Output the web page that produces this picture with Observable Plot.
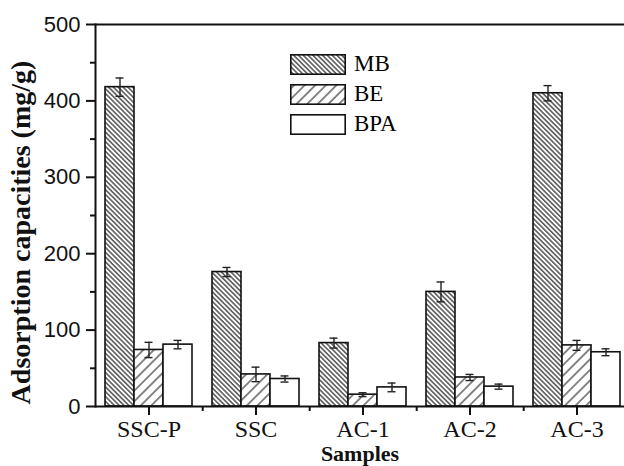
<!DOCTYPE html>
<html><head><meta charset="utf-8">
<script src="https://cdn.jsdelivr.net/npm/d3@7"></script>
<script src="https://cdn.jsdelivr.net/npm/@observablehq/plot@0.6"></script>
<style>
body{margin:0;background:#fff;}
#wrap{position:relative;width:624px;height:466px;overflow:hidden;}
#legend{position:absolute;left:290px;top:54px;font-family:"Liberation Serif","Times New Roman",serif;font-size:23px;color:#000;}
.row{display:flex;align-items:center;height:20px;margin-bottom:10px;}
.row svg{display:block;margin-right:8px;}
</style></head><body><div id="wrap"><div id="legend"></div></div>
<script>
// ---- data ----
const samples = ["SSC-P", "SSC", "AC-1", "AC-2", "AC-3"];
const series = ["MB", "BE", "BPA"];
const MB = [418, 176, 83, 150, 410];
const MBerr = [12, 6, 6.5, 13, 10];
const BE = [74, 42, 15.5, 38, 80];
const BEerr = [10, 9.5, 2.5, 4, 6.5];
const BPA = [81, 36, 25, 26, 71];
const BPAerr = [5.5, 4, 5.7, 3.3, 4.5];
const yMajor = [0, 100, 200, 300, 400, 500];
const yMinor = [50, 150, 250, 350, 450];
const yTitle = "Adsorption capacities (mg/g)";
const xTitle = "Samples";

const values = {MB, BE, BPA};
const errors = {MB: MBerr, BE: BEerr, BPA: BPAerr};
const fills = {MB: "url(#hatchMB)", BE: "url(#hatchBE)", BPA: "white"};
const offsets = {MB: -29, BE: 0, BPA: 29};

const rows = series.flatMap(s => samples.map((sample, i) => ({sample, series: s, value: values[s][i], err: errors[s][i]})));

const marks = [];
for (const s of series) {
  const d = rows.filter(r => r.series === s);
  marks.push(Plot.barY(d, {x: "sample", y: "value", fill: fills[s], stroke: "#111", strokeWidth: 1.6, dx: offsets[s]}));
  marks.push(Plot.ruleX(d, {x: "sample", y1: r => r.value - r.err, y2: r => r.value + r.err, dx: offsets[s], stroke: "#222", strokeWidth: 1.4}));
  marks.push(Plot.tickY(d, {x: "sample", y: r => r.value + r.err, dx: offsets[s], insetLeft: 10.5, insetRight: 10.5, stroke: "#222", strokeWidth: 1.4}));
  marks.push(Plot.tickY(d, {x: "sample", y: r => r.value - r.err, dx: offsets[s], insetLeft: 10.5, insetRight: 10.5, stroke: "#222", strokeWidth: 1.4}));
}

const chart = Plot.plot({
  width: 624,
  height: 466,
  marginLeft: 95,
  marginRight: 0,
  marginTop: 24,
  marginBottom: 60,
  style: {background: "white", overflow: "hidden"},
  x: {domain: samples, range: [94, 631], paddingInner: 0.73, paddingOuter: 0.365},
  y: {domain: [0, 500]},
  marks: [
    ...marks,
    Plot.ruleY([0, 500], {stroke: "#111", strokeWidth: 2}),
    Plot.frame({anchor: "left", stroke: "#111", strokeWidth: 2}),
    Plot.axisY({ticks: yMajor, tickSize: 9, tickPadding: 6, fontSize: 22, fontFamily: "Liberation Sans, Arial, sans-serif", stroke: "#111", strokeWidth: 2, fill: "#111", label: null}),
    Plot.axisY({ticks: yMinor, tickSize: 5, text: null, stroke: "#111", strokeWidth: 2, label: null}),
    Plot.axisX({tickSize: 9, tickPadding: 4, fontSize: 24, fontFamily: "Liberation Serif, Times New Roman, serif", stroke: "#111", strokeWidth: 2, fill: "#111", label: null}),
    Plot.axisX({ticks: samples.slice(0, 4), tickSize: 5, text: null, dx: 53.7, stroke: "#111", strokeWidth: 2, label: null}),
    Plot.text([yTitle], {text: d => d, frameAnchor: "left", textAnchor: "middle", rotate: -90, dx: -74, dy: 17, fontSize: 28, fontWeight: "bold", fontFamily: "Liberation Serif, Times New Roman, serif", fill: "#111"}),
    Plot.text([xTitle], {text: d => d, frameAnchor: "bottom", lineAnchor: "top", dy: 39, fontSize: 22, fontWeight: "bold", fontFamily: "Liberation Serif, Times New Roman, serif", fill: "#111"})
  ]
});

// hatch patterns
const ns = "http://www.w3.org/2000/svg";
const defs = document.createElementNS(ns, "defs");
defs.innerHTML = `
<pattern id="hatchMB" patternUnits="userSpaceOnUse" width="3.4" height="3.4" patternTransform="rotate(-45)">
  <rect width="3.4" height="3.4" fill="white"/>
  <line x1="1.7" y1="0" x2="1.7" y2="3.4" stroke="#111" stroke-width="1.1"/>
</pattern>
<pattern id="hatchBE" patternUnits="userSpaceOnUse" width="7.5" height="7.5" patternTransform="rotate(45)">
  <rect width="7.5" height="7.5" fill="white"/>
  <line x1="3.75" y1="0" x2="3.75" y2="7.5" stroke="#111" stroke-width="1"/>
</pattern>`;
chart.insertBefore(defs, chart.firstChild);
document.getElementById("wrap").insertBefore(chart, document.getElementById("legend"));

// legend
const legend = document.getElementById("legend");
for (const s of series) {
  const row = document.createElement("div");
  row.className = "row";
  row.innerHTML = `<svg width="56" height="21"><rect x="0.8" y="0.8" width="54.4" height="19.4" fill="${fills[s]}" stroke="#111" stroke-width="1.6"/></svg><span>${s}</span>`;
  legend.appendChild(row);
}
</script></body></html>
